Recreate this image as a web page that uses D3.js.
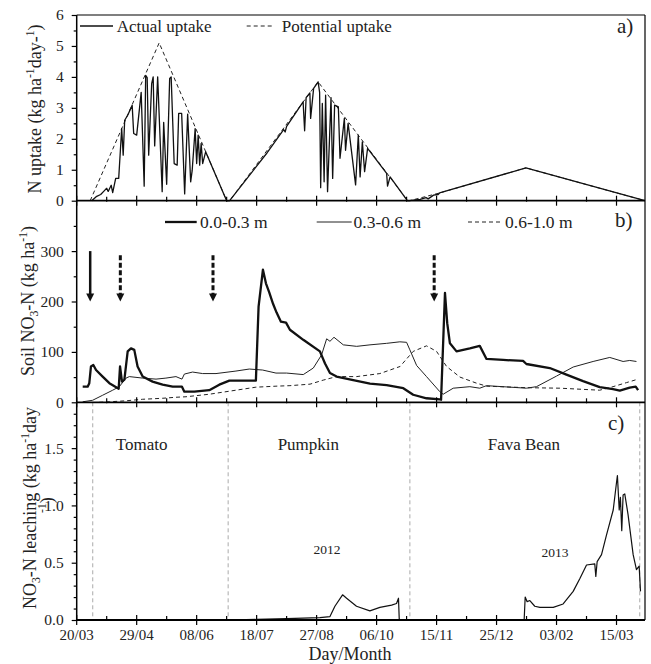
<!DOCTYPE html>
<html>
<head>
<meta charset="utf-8">
<script src="https://cdn.jsdelivr.net/npm/d3@7"></script>
<style>
  body { margin: 0; background: #fff; }
  svg { display: block; font-family: 'Liberation Serif', 'Times New Roman', serif; }
</style>
</head>
<body>
<svg width="651" height="664" font-family="Liberation Serif, Times New Roman, serif"></svg>
<script>
// days counted from 20/03/2012
var xTickLabels = ['20/03', '29/04', '08/06', '18/07', '27/08', '06/10', '15/11', '25/12', '03/02', '15/03'];

// a) N uptake, kg/ha/day
var actualUptake = [
    [10,0],[13,0.13],[16,0.2],[18,0.3],[20,0.4],[21,0.3],[23,0.5],[24,0.26],[26,0.72],[28,0.72],
    [30,2.33],[31,1.47],[32,2.6],[34,2.76],[37,3.08],[38,2.17],[40,2.12],[43,3.5],[45,0.47],[46,4.05],
    [47,3.98],[48,1.47],[50,3.78],[51,4.0],[52,1.77],[54,4.0],[57,0.29],[58,2.53],[60,0.53],[62,3.95],
    [63,4.0],[65,1.2],[67,1.15],[68,2.82],[70,2.82],[72,0.22],[74,2.8],[76,0.61],[77,0.97],[79,2.33],
    [80,1.2],[81,2.12],[82,1.15],[83,1.85],[84,1.2],[86,1.58],[100,0],
    [102,0],[127,1.55],[128,1.62],[138,2.3],[139,2.22],[140,2.4],[151,3.19],[152,2.26],[153,3.33],
    [155.5,3.48],[156,2.66],[158,3.63],[160,3.77],[161,3.84],[162,3.5],[162.7,0.42],[163.8,3.14],
    [165,0.61],[166,3.41],[167.3,0.29],[169.6,3.33],[170.7,0.72],[172,3.09],[174.5,3.03],[175.6,1.37],
    [178.5,2.66],[179.3,1.63],[181,2.5],[186,0.51],[187.8,2.12],[189,0.77],[190.5,1.9],[192,0.94],
    [194,1.69],[206.7,0.88],[207.3,0.47],[209,0.77],[220.5,0],
    [222,0],[229,0.04],[233,0.1],[234.4,0.06],[238,0.18],[241,0.2],[242,0.25],[299.6,1.06],[379,0]
];
var potentialUptake = [
    [9,0],[55,5.1],[100,0],[102,0],[161,3.84],[220.7,0],[222,0],[242,0.25],[299.6,1.06],[379,0]
];

// b) soil NO3-N, kg/ha
var soil0to30 = [
    [4,31],[7.3,31],[8.4,38],[9.5,71],[11.1,74],[12.9,64],[17.3,51],[21.8,38],[28,27],[28.9,71],
    [30.2,41],[31.8,45],[34,101],[36.2,107],[38.4,104],[40.6,71],[44,51],[50.6,41],[57.3,35],[64,31],
    [70.2,31],[71.8,21],[78.4,21],[88.4,24],[95.1,35],[101.8,43],[119.5,43],[121.3,190],[124.2,263],
    [126.2,236],[128.4,218],[131,195],[133.3,178],[136.2,160],[139.6,158],[142.2,144],[151.1,124],
    [162.2,101],[165.6,77],[168.9,58],[173.3,51],[184.4,44],[195.6,37],[206.7,34],[217.8,28],
    [224.4,15],[233.3,8],[242.2,6],[243,5],[245.6,217],[247.1,157],[248.9,117],[253.3,101],[262.2,107],
    [268.8,112],[273.3,86],[284.4,84],[297.7,82],[299.9,76],[315.5,68],[326.6,55],[337.7,42],
    [348.8,30],[357.7,26],[362.2,23],[368.8,29],[372.8,31],[374.4,24]
];
var soil30to60 = [
    [4,1],[10.6,4],[17.3,14],[24,24],[28.4,31],[32.9,48],[35.1,51],[44,48],[52.9,46],[59.5,48],
    [66.2,51],[70.2,46],[71.8,56],[77.3,60],[84,57],[92.9,57],[106.2,62],[115.1,66],[124,64],
    [132.9,58],[140,58],[151.1,55],[157.8,68],[163.3,94],[166.7,126],[168.9,121],[171.6,129],
    [177.8,114],[186.7,111],[195.6,114],[206.7,117],[215.5,120],[220,119],[222.2,104],[226.7,73],
    [233.3,51],[242.2,21],[244.4,16],[251.1,28],[262.2,31],[268.8,28],[273.3,33],[299.9,28],
    [306.6,31],[320,52],[331.1,70],[344.4,81],[355.5,89],[364.4,81],[368.8,83],[373.3,81]
];
var soil60to100 = [
    [15,0],[21.8,1],[32.9,3],[44,6],[57.3,8],[66.2,10],[72.9,11],[88.4,16],[106.2,24],[119.5,30],
    [132.9,32],[142.2,33],[155.6,36],[164.4,44],[173.3,51],[186.7,51],[202.2,57],[215.6,71],
    [224.4,101],[233.3,112],[240,101],[246.7,71],[255.6,50],[266.6,38],[273.3,32],[299.9,29],
    [322.2,28],[348.8,24],[357.7,31],[366.6,39],[373.3,45]
];
var fertSolid = [9];
var fertDashed = [29.1, 90.9, 238.4];

// c) NO3-N leaching, kg/ha/day
var leaching = [
    [100,0],[120,0.005],[140,0.012],[162.2,0.02],[168.9,0.03],[172.2,0.12],[177.3,0.22],[180,0.19],
    [186.6,0.12],[195.5,0.08],[202.2,0.11],[210,0.13],[213.3,0.144],[214.6,0.19],[215.1,0.01],[216,0],
    [298.4,0],[299.1,0.2],[300.4,0.16],[302.2,0.17],[305.5,0.12],[308.9,0.11],[317.8,0.11],[324.4,0.14],
    [331.1,0.25],[335.5,0.36],[340,0.48],[345.5,0.49],[346.2,0.38],[347.1,0.51],[350,0.57],[353.3,0.74],
    [357.8,0.96],[360,1.2],[360.6,1.26],[361.8,0.96],[362.6,1.07],[363.5,0.78],[364.4,1.09],[365.5,1.1],
    [367.7,0.92],[371.1,0.57],[373.3,0.44],[375.1,0.47],[376,0.25]
];
var cropBounds = [10.7, 101, 222.2, 375.5];
var cropNames = ['Tomato', 'Pumpkin', 'Fava Bean'];
var cropLabelDays = [43.3, 154.5, 298.2];
var yearNames = ['2012', '2013'];
var yearDays = [167, 318.9];

var svg = d3.select('svg');
var left = 76.7, right = 645;

var x = d3.scaleLinear().domain([0, 379]).range([left, right]);
var ya = d3.scaleLinear().domain([0, 6]).range([200.7, 15]);
var yb = d3.scaleLinear().domain([0, 400]).range([402.3, 200.7]);
var yc = d3.scaleLinear().domain([0, 1.9]).range([620, 402.3]);

function lineFor(y) {
    return d3.line().x(function(d) { return x(d[0]); }).y(function(d) { return y(d[1]); });
}

function yAxis(y, major, minor, fmt) {
    svg.append('g')
        .attr('transform', 'translate(' + left + ',0)')
        .call(d3.axisLeft(y).tickValues(minor).tickSize(3).tickFormat(''))
        .call(function(g) { g.select('.domain').remove(); })
        .selectAll('line').attr('stroke-width', 1.2);
    var g = svg.append('g')
        .attr('transform', 'translate(' + left + ',0)')
        .call(d3.axisLeft(y).tickValues(major).tickSize(5).tickPadding(8).tickFormat(fmt));
    g.attr('font-family', null);
    g.select('.domain').remove();
    g.selectAll('line').attr('stroke-width', 1.2);
    g.selectAll('text').attr('font-size', 15.5).attr('fill', '#222');
}

function xTicks(yPos) {
    var minor = d3.range(20, 379, 40);
    var major = d3.range(0, 379, 40);
    svg.append('g').selectAll('line').data(minor).join('line')
        .attr('x1', x).attr('x2', x).attr('y1', yPos - 4).attr('y2', yPos + 1)
        .attr('stroke', '#000').attr('stroke-width', 1.2);
    svg.append('g').selectAll('line').data(major).join('line')
        .attr('x1', x).attr('x2', x).attr('y1', yPos - 5).attr('y2', yPos + 5)
        .attr('stroke', '#000').attr('stroke-width', 1.2);
}

// y axes
yAxis(ya, d3.range(0, 7, 1), d3.range(0.5, 6, 1), d3.format('d'));
yAxis(yb, [0, 100, 200, 300], [50, 150, 250, 350], d3.format('d'));
yAxis(yc, [0, 0.5, 1.0, 1.5], d3.range(0.1, 1.85, 0.1).filter(function(v) { return Math.abs(v * 2 - Math.round(v * 2)) > 0.01; }), d3.format('.1f'));

// crop boundaries in panel c
svg.append('g').selectAll('line').data(cropBounds).join('line')
    .attr('x1', x).attr('x2', x).attr('y1', yc(1.9)).attr('y2', yc(0))
    .attr('stroke', '#aaa').attr('stroke-width', 1).attr('stroke-dasharray', '4,3');

// panel a lines
svg.append('path').datum(potentialUptake).attr('d', lineFor(ya))
    .attr('fill', 'none').attr('stroke', '#222').attr('stroke-width', 1).attr('stroke-dasharray', '4,3');
svg.append('path').datum(actualUptake).attr('d', lineFor(ya))
    .attr('fill', 'none').attr('stroke', '#111').attr('stroke-width', 1.3).attr('stroke-linejoin', 'round');

// panel b lines
svg.append('path').datum(soil60to100).attr('d', lineFor(yb))
    .attr('fill', 'none').attr('stroke', '#222').attr('stroke-width', 1).attr('stroke-dasharray', '4,3');
svg.append('path').datum(soil30to60).attr('d', lineFor(yb))
    .attr('fill', 'none').attr('stroke', '#222').attr('stroke-width', 1);
svg.append('path').datum(soil0to30).attr('d', lineFor(yb))
    .attr('fill', 'none').attr('stroke', '#111').attr('stroke-width', 2.3).attr('stroke-linejoin', 'round');

// fertiliser arrows
function arrow(day, top, dashed) {
    var ax = x(day), tip = yb(200);
    svg.append('line').attr('x1', ax).attr('x2', ax).attr('y1', yb(top)).attr('y2', tip - 7)
        .attr('stroke', '#111').attr('stroke-width', dashed ? 3 : 2.5)
        .attr('stroke-dasharray', dashed ? '5,2.5' : null);
    svg.append('path')
        .attr('d', 'M' + (ax - 4) + ',' + (tip - 8) + 'L' + (ax + 4) + ',' + (tip - 8) + 'L' + ax + ',' + tip + 'Z')
        .attr('fill', '#111');
}
fertSolid.forEach(function(d) { arrow(d, 300, false); });
fertDashed.forEach(function(d) { arrow(d, 292, true); });

// panel c line
svg.append('path').datum(leaching).attr('d', lineFor(yc))
    .attr('fill', 'none').attr('stroke', '#111').attr('stroke-width', 1.2).attr('stroke-linejoin', 'round');

// frame
var frame = svg.append('g').attr('stroke', '#000').attr('stroke-width', 1.5).attr('fill', 'none');
frame.append('line').attr('x1', left).attr('x2', left).attr('y1', ya(6)).attr('y2', yc(0));
frame.append('line').attr('x1', right).attr('x2', right).attr('y1', ya(6)).attr('y2', yc(0)).attr('stroke-width', 1.2);
frame.append('line').attr('x1', left).attr('x2', right).attr('y1', ya(6)).attr('y2', ya(6)).attr('stroke-width', 1.2);
[ya(0), yb(0), yc(0)].forEach(function(yy) {
    frame.append('line').attr('x1', left).attr('x2', right).attr('y1', yy).attr('y2', yy).attr('stroke-width', 1.8);
    xTicks(yy);
});

// x tick labels
svg.append('g').selectAll('text').data(xTickLabels).join('text')
    .attr('x', function(d, i) { return x(i * 40); }).attr('y', 640)
    .attr('text-anchor', 'middle').attr('font-size', 15).attr('fill', '#222')
    .text(function(d) { return d; });

svg.append('text').attr('x', 350).attr('y', 660).attr('text-anchor', 'middle')
    .attr('font-size', 18).attr('fill', '#222').text('Day/Month');

// y titles
function yTitle(xPos, yPos, parts, size) {
    var t = svg.append('text').attr('transform', 'translate(' + xPos + ',' + yPos + ') rotate(-90)')
        .attr('text-anchor', 'middle').attr('font-size', size).attr('fill', '#222');
    parts.forEach(function(p) {
        var s = t.append('tspan').text(p[0]);
        if (p[1] === 'sup') s.attr('font-size', size * 0.65).attr('dy', -7);
        if (p[1] === 'sub') s.attr('font-size', size * 0.65).attr('dy', 4);
        if (p[1] === 'back') s.attr('dy', 7);
        if (p[1] === 'back2') s.attr('dy', -4);
    });
    return t;
}
yTitle(41, 109, [['N uptake (kg ha'], ['-1', 'sup'], ['day-', 'back'], ['1', 'sup'], [')', 'back']], 18);
yTitle(34, 301, [['Soil NO'], ['3', 'sub'], ['-N (kg ha', 'back2'], ['-1', 'sup'], [')', 'back']], 18);
yTitle(36, 508, [['NO'], ['3', 'sub'], ['-N leaching (kg ha', 'back2'], ['-1', 'sup'], ['day', 'back']], 18);
yTitle(53, 505, [['-1', 'sup'], [')', 'back']], 18);

// legends
var lg = svg.append('g').attr('font-size', 17).attr('fill', '#222');
lg.append('line').attr('x1', 80).attr('x2', 113).attr('y1', 26).attr('y2', 26).attr('stroke', '#111').attr('stroke-width', 1.3);
lg.append('text').attr('x', 116.7).attr('y', 32).text('Actual uptake');
lg.append('line').attr('x1', 246.7).attr('x2', 273).attr('y1', 26).attr('y2', 26).attr('stroke', '#222').attr('stroke-width', 1).attr('stroke-dasharray', '4,3');
lg.append('text').attr('x', 281.7).attr('y', 32).text('Potential uptake');

lg.append('line').attr('x1', 165).attr('x2', 196.7).attr('y1', 222).attr('y2', 222).attr('stroke', '#111').attr('stroke-width', 2.3);
lg.append('text').attr('x', 200).attr('y', 228).attr('font-size', 17.5).text('0.0-0.3 m');
lg.append('line').attr('x1', 316.7).attr('x2', 351.7).attr('y1', 222).attr('y2', 222).attr('stroke', '#222').attr('stroke-width', 1);
lg.append('text').attr('x', 353.5).attr('y', 228).attr('font-size', 17.5).text('0.3-0.6 m');
lg.append('line').attr('x1', 468).attr('x2', 500).attr('y1', 222).attr('y2', 222).attr('stroke', '#222').attr('stroke-width', 1).attr('stroke-dasharray', '4,3');
lg.append('text').attr('x', 505).attr('y', 228).attr('font-size', 17.5).text('0.6-1.0 m');

// panel letters
[['a)', 617, 33], ['b)', 615, 227], ['c)', 608, 430]].forEach(function(p) {
    svg.append('text').attr('x', p[1]).attr('y', p[2]).attr('font-size', 21).attr('fill', '#222').text(p[0]);
});

// crop and year labels
svg.append('g').selectAll('text').data(cropNames).join('text')
    .attr('x', function(d, i) { return x(cropLabelDays[i]); }).attr('y', yc(1.48))
    .attr('text-anchor', 'middle').attr('font-size', 17).attr('fill', '#222')
    .text(function(d) { return d; });
svg.append('g').selectAll('text').data(yearNames).join('text')
    .attr('x', function(d, i) { return x(yearDays[i]); }).attr('y', function(d, i) { return yc(i ? 0.55 : 0.58); })
    .attr('text-anchor', 'middle').attr('font-size', 13.5).attr('fill', '#222')
    .text(function(d) { return d; });
</script>
</body>
</html>
